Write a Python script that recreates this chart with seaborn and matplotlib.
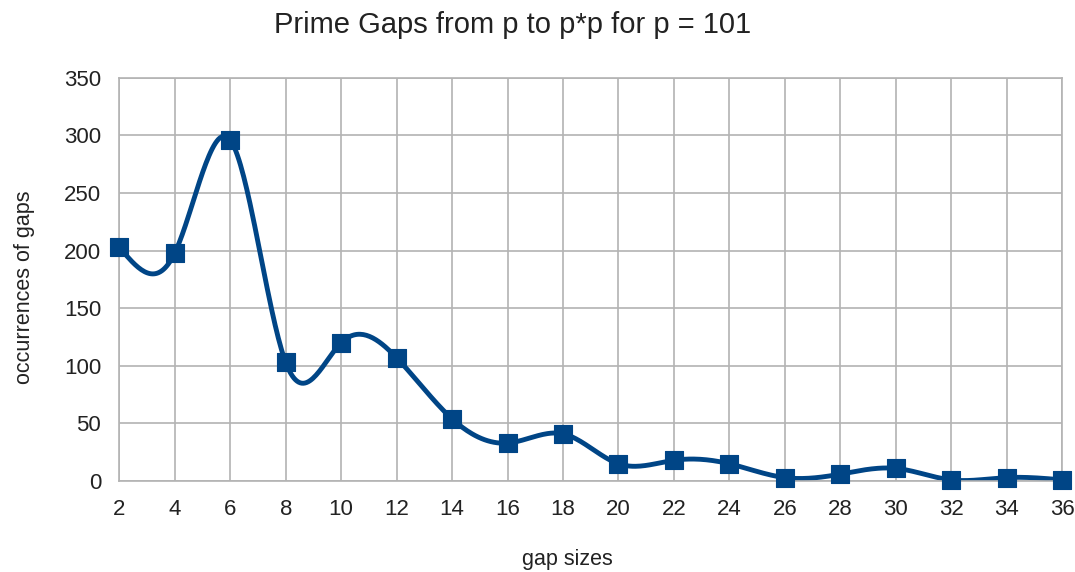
import matplotlib

matplotlib.use("Agg")
import matplotlib.pyplot as plt
import numpy as np
import pandas as pd
import seaborn as sns

gap_sizes = [2, 4, 6, 8, 10, 12, 14, 16, 18, 20, 22, 24, 26, 28, 30, 32, 34, 36]
occurrences = [203, 198, 296, 103, 120, 107, 54, 33, 41, 15, 18, 15, 3, 6, 11, 1, 3, 1]

LINE_COLOR = "#004586"
GRID_COLOR = "#b3b3b3"
TEXT_COLOR = "#222222"


def natural_spline(x, y, num=600):
    # smooth line through the points, like the "cubic spline" line type
    x = np.asarray(x, dtype=float)
    y = np.asarray(y, dtype=float)
    n = len(x)
    h = np.diff(x)
    A = np.zeros((n, n))
    b = np.zeros(n)
    A[0, 0] = A[-1, -1] = 1.0
    for i in range(1, n - 1):
        A[i, i - 1] = h[i - 1]
        A[i, i] = 2 * (h[i - 1] + h[i])
        A[i, i + 1] = h[i]
        b[i] = 3 * ((y[i + 1] - y[i]) / h[i] - (y[i] - y[i - 1]) / h[i - 1])
    c = np.linalg.solve(A, b)
    xs = np.linspace(x[0], x[-1], num)
    idx = np.clip(np.searchsorted(x, xs) - 1, 0, n - 2)
    dx = xs - x[idx]
    bb = (y[idx + 1] - y[idx]) / h[idx] - h[idx] * (2 * c[idx] + c[idx + 1]) / 3
    d = (c[idx + 1] - c[idx]) / (3 * h[idx])
    ys = y[idx] + bb * dx + c[idx] * dx**2 + d * dx**3
    return xs, ys


sns.set_style("white")
plt.rcParams["font.family"] = ["Liberation Sans", "DejaVu Sans"]

points = pd.DataFrame({"gap": gap_sizes, "count": occurrences})
xs, ys = natural_spline(gap_sizes, occurrences)
curve = pd.DataFrame({"gap": xs, "count": ys})

fig = plt.figure(figsize=(10.75, 5.72), dpi=100)
ax = fig.add_axes([0.111, 0.159, 0.877, 0.705])

sns.lineplot(data=curve, x="gap", y="count", ax=ax, color=LINE_COLOR, linewidth=3.5, sort=False)
sns.scatterplot(
    data=points, x="gap", y="count", ax=ax, marker="s", s=170,
    color=LINE_COLOR, edgecolor=LINE_COLOR, linewidth=0.8, zorder=5, clip_on=False,
)

ax.set_xlim(2, 36)
ax.set_ylim(0, 350)
ax.set_xticks(range(2, 37, 2))
ax.set_yticks(range(0, 351, 50))
ax.grid(True, color=GRID_COLOR, linewidth=1.2)
ax.set_axisbelow(True)
for spine in ax.spines.values():
    spine.set_color(GRID_COLOR)
    spine.set_linewidth(1.2)
ax.tick_params(axis="both", length=7, width=1.2, color=GRID_COLOR, labelsize=16, labelcolor=TEXT_COLOR, pad=6)
ax.set_xlabel("")
ax.set_ylabel("")

fig.text(513 / 1075, 1 - 33 / 572, "Prime Gaps from p to p*p for p = 101",
         fontsize=21, color=TEXT_COLOR, ha="center", va="baseline")
fig.text(567 / 1075, 1 - 565 / 572, "gap sizes",
         fontsize=15.5, color=TEXT_COLOR, ha="center", va="baseline")
fig.text(25 / 1075, 1 - 287 / 572, "occurrences of gaps", rotation=90,
         fontsize=15.5, color=TEXT_COLOR, ha="center", va="center")

fig.savefig("out.png", dpi=100)
plt.close(fig)
